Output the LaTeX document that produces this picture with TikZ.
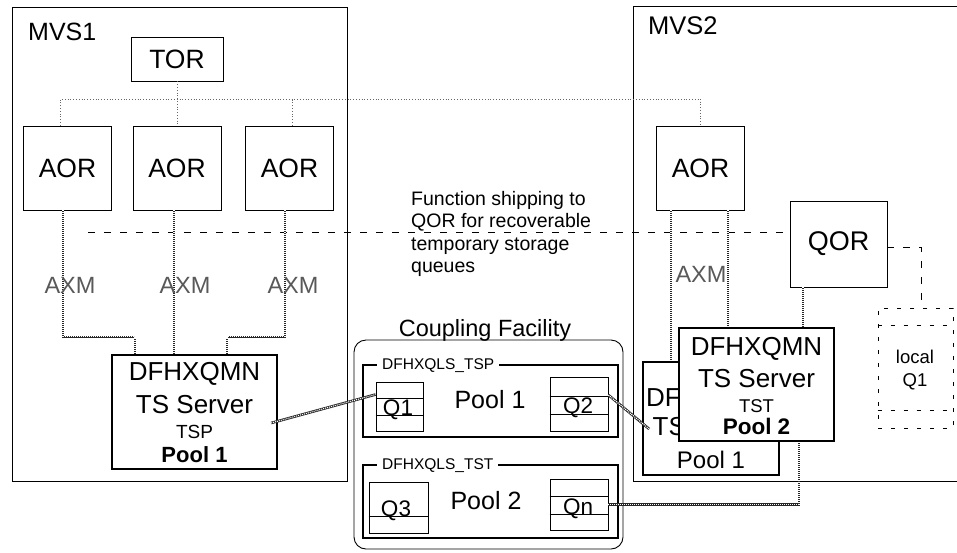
\documentclass[tikz,border=0pt]{standalone}
\usepackage{fontspec}
\setmainfont{Liberation Sans}
\newcommand\myfs[1]{\fontsize{#1}{#1}\selectfont}
\begin{document}
\begin{tikzpicture}[x=1pt,y=-1pt,
  box/.style={draw, line width=0.9pt, inner sep=0pt},
  heavybox/.style={draw, line width=2.2pt, inner sep=0pt, fill=white},
  qbox/.style={draw, line width=0.8pt, inner sep=0pt},
  txt/.style={inner sep=0pt},
  dotline/.style={draw=black!60, dotted, line width=0.8pt},
  fsline/.style={draw, line width=0.7pt, dash pattern=on 7pt off 9pt},
  lqdash/.style={draw, line width=0.6pt, dash pattern=on 4pt off 9pt},
  axm/.style={line width=2.6pt, draw=black!85, postaction={draw=white, line width=1.1pt, dash pattern=on 1pt off 1pt}},
  axmlabel/.style={inner sep=0pt, font=\myfs{23.5}, text=black!65},
]
\useasboundingbox (0,0) rectangle (957,552);

% systems
\node[box, minimum width=335pt, minimum height=474pt] (mvs1) at (179.5,244) {};
\node[txt, anchor=west, font=\myfs{25}] (mvs1l) at (28,32) {MVS1};
\node[box, minimum width=332pt, minimum height=475pt] (mvs2) at (799,243.5) {};
\node[txt, anchor=west, font=\myfs{25.5}] (mvs2l) at (648,26) {MVS2};

% TOR and AORs
\node[box, minimum width=92pt, minimum height=44pt, font=\myfs{26.5}] (tor) at (177,59) {TOR};
\node[box, minimum width=88pt, minimum height=84pt, font=\myfs{26.5}] (aor1) at (67.5,168) {AOR};
\node[box, minimum width=88pt, minimum height=84pt, font=\myfs{26.5}] (aor2) at (177,168) {AOR};
\node[box, minimum width=88pt, minimum height=84pt, font=\myfs{26.5}] (aor3) at (289.5,168) {AOR};
\node[box, minimum width=88pt, minimum height=84pt, font=\myfs{26.5}] (aor4) at (700.5,168) {AOR};

\coordinate (bus) at (0,99);
\draw[dotline] (tor.south) -- (aor2.north);
\draw[dotline] ([xshift=-7]aor1.north) |- (bus -| aor4.north) -- (aor4.north);
\draw[dotline] ([xshift=3]aor3.north) -- ([xshift=3]aor3.north |- bus);

% QOR and local queue
\node[box, minimum width=97pt, minimum height=86pt, font=\myfs{27}] (qor) at (838.5,244) {QOR};
\node[lqdash, minimum width=75pt, minimum height=120pt, inner sep=0pt] (lq) at (915.5,368) {};
\draw[lqdash] ([yshift=-18]lq.north west) -- ([yshift=-18]lq.north east);
\draw[lqdash] ([yshift=18]lq.south west) -- ([yshift=18]lq.south east);
\node[txt, font=\myfs{18.5}] (lqt1) at (915,357) {local};
\node[txt, font=\myfs{18.5}] (lqt2) at (915,382) {Q1};

% function shipping
\coordinate (fs0) at (88,232);
\draw[fsline] (fs0) -- (fs0 -| qor.west);
\draw[fsline] ([yshift=-3]qor.east) -| ([xshift=6]lq.north);
\node[txt, anchor=north west, align=left, font=\fontsize{19.5}{22.5}\selectfont] (fstext) at (411,191)
  {Function shipping to\\QOR for recoverable\\temporary storage\\queues};

% coupling facility
\node[draw, line width=0.9pt, rounded corners=12pt, minimum width=269pt, minimum height=209pt] (cf) at (488.5,444.5) {};
\node[txt, anchor=base, font=\myfs{23.5}] (cft) at (485,336) {Coupling Facility};

\node[heavybox, minimum width=255pt, minimum height=72pt] (p1) at (490.5,401) {};
\node[txt, anchor=base west, fill=white, inner xsep=5pt, inner ysep=1.5pt, font=\myfs{15.5}] (p1l) at (377,369) {DFHXQLS\_TSP};
\node[qbox, minimum width=47pt, minimum height=49pt] (q1) at (399.5,406.5) {};
\draw[line width=0.6pt] ([yshift=-17]q1.north west) -- ([yshift=-17]q1.north east);
\draw[line width=0.6pt] ([yshift=-34]q1.north west) -- ([yshift=-34]q1.north east);
\node[txt, anchor=base, font=\myfs{22.5}] (q1t) at (398,415) {Q1};
\node[txt, anchor=base, font=\myfs{25}] (p1t) at (490,408) {Pool 1};
\node[qbox, minimum width=58pt, minimum height=54pt] (q2) at (579,404) {};
\draw[line width=0.6pt] ([yshift=-20]q2.north west) -- ([yshift=-20]q2.north east);
\draw[line width=0.6pt] ([yshift=-38]q2.north west) -- ([yshift=-38]q2.north east);
\node[txt, anchor=base, font=\myfs{22.5}] (q2t) at (578,413) {Q2};

\node[heavybox, minimum width=255pt, minimum height=73pt] (p2) at (490.5,501.5) {};
\node[txt, anchor=base west, fill=white, inner xsep=5pt, inner ysep=1.5pt, font=\myfs{15.5}] (p2l) at (377,469) {DFHXQLS\_TST};
\node[qbox, minimum width=59pt, minimum height=51pt] (q3) at (398.5,507.5) {};
\draw[line width=0.6pt] ([yshift=-35]q3.north west) -- ([yshift=-35]q3.north east);
\node[txt, anchor=base, font=\myfs{22.5}] (q3t) at (396,516) {Q3};
\node[txt, anchor=base, font=\myfs{25}] (p2t) at (486,509) {Pool 2};
\node[qbox, minimum width=58pt, minimum height=51pt] (qn) at (579,504.5) {};
\draw[line width=0.6pt] ([yshift=-18]qn.north west) -- ([yshift=-18]qn.north east);
\draw[line width=0.6pt] ([yshift=-36]qn.north west) -- ([yshift=-36]qn.north east);
\node[txt, anchor=base, font=\myfs{22.5}] (qnt) at (578,514) {Qn};

% MVS1 server and AXM links
\node[heavybox, minimum width=165pt, minimum height=114pt] (mq1) at (194.5,412) {};
\draw[axm] ([xshift=-4.5]aor1.south) |- ([xshift=-59.5,yshift=17]mq1.north) -- ([xshift=-59.5]mq1.north);
\draw[axm] ([xshift=-3]aor2.south) -- ([xshift=-3]aor2.south |- mq1.north);
\draw[axm] ([xshift=-4.5]aor3.south) |- ([xshift=32.5,yshift=17]mq1.north) -- ([xshift=32.5]mq1.north);
\node[axmlabel] (axm1) at (70,285) {AXM};
\node[axmlabel] (axm2) at (185,285) {AXM};
\node[axmlabel] (axm3) at (293,285) {AXM};
\node[txt, font=\myfs{26}] (mq1a) at (194.5,374) {DFHXQMN};
\node[txt, font=\myfs{26}] (mq1b) at (194.5,405) {TS Server};
\node[txt, font=\myfs{19}] (mq1c) at (194.5,432) {TSP};
\node[txt, font=\myfs{22}\bfseries] (mq1d) at (194.5,455) {Pool 1};
\draw[axm] ([xshift=-7,yshift=-11]mq1.east) -- ([yshift=12]q1.west);

% MVS2 servers
\node[draw, line width=1.6pt, inner sep=0pt, fill=white, minimum width=136pt, minimum height=113pt] (mq2b) at (711,418.5) {};
\node[txt, anchor=west, font=\myfs{26}] (mq2ba) at (646,398) {DF};
\node[txt, anchor=west, font=\myfs{26}] (mq2bb) at (652.5,427) {TS};
\node[txt, font=\myfs{24}] (mq2bc) at (711,460) {Pool 1};
\draw[axm] ([xshift=-29.5]aor4.south) -- ([xshift=-29.5]aor4.south |- mq2b.north);
\node[heavybox, minimum width=155pt, minimum height=113pt] (mqf) at (756.5,384.5) {};
\node[txt, font=\myfs{26}] (mqfa) at (756.5,349) {DFHXQMN};
\node[txt, font=\myfs{26}] (mqfb) at (756.5,379) {TS Server};
\node[txt, font=\myfs{18.5}] (mqfc) at (756.5,406) {TST};
\node[txt, font=\myfs{22.5}\bfseries] (mqfd) at (756.5,426) {Pool 2};
\draw[axm] ([xshift=27.5]aor4.south) -- ([xshift=27.5]aor4.south |- mqf.north);
\draw[axm] ([xshift=-35.5]qor.south) -- ([xshift=-35.5]qor.south |- mqf.north);
\node[axmlabel] (axm4) at (701,274) {AXM};
\draw[axm] ([yshift=9]q2.east) -- ([xshift=7,yshift=-10.5]mq2b.west);
\draw[axm] (qn.east) -| ([xshift=42.5]mqf.south);
\end{tikzpicture}
\end{document}
